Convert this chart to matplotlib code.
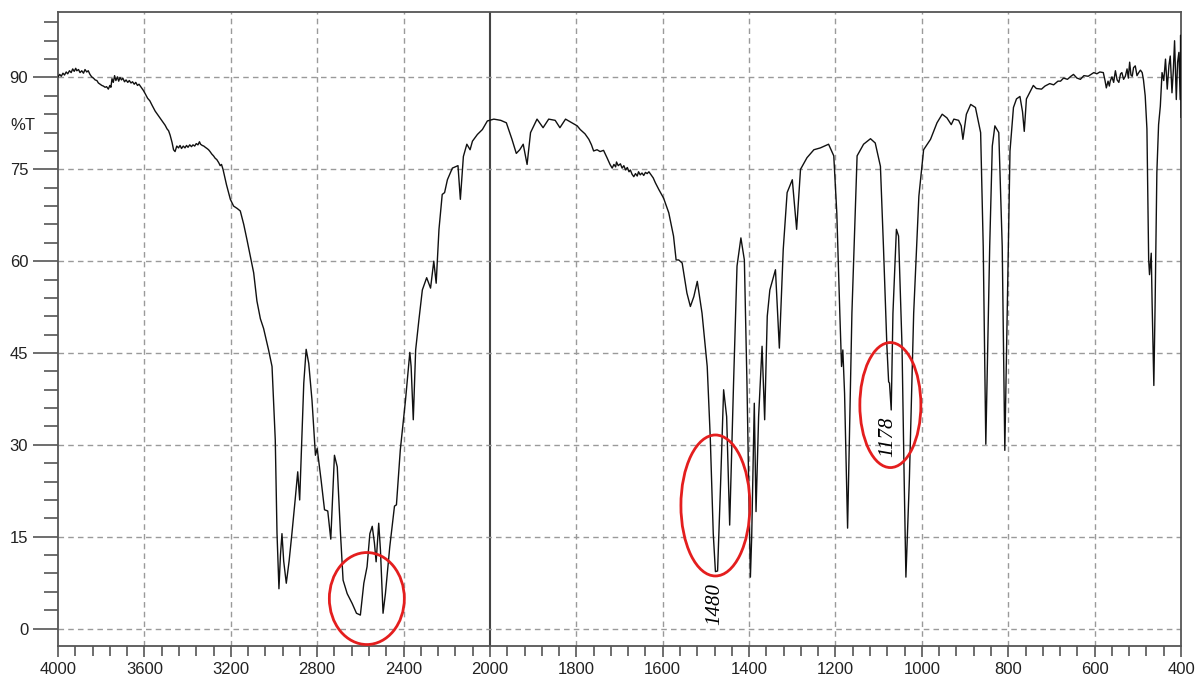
import numpy as np
import matplotlib
matplotlib.use("Agg")
import matplotlib.pyplot as plt
from matplotlib.patches import Ellipse
from matplotlib.ticker import FixedLocator

# IR spectrum, split by region (wavenumber cm-1 / %T)
wn_a = [
    4000, 3992, 3985, 3977, 3970, 3962, 3955, 3947, 3939, 3932,
    3925, 3918, 3913, 3905, 3898, 3890, 3882, 3875, 3867, 3860,
    3852, 3844, 3836, 3828, 3820, 3813, 3805, 3797, 3790, 3782,
    3775, 3767, 3760, 3755, 3750, 3744, 3738, 3732, 3725, 3719,
    3713, 3706, 3700, 3692, 3685, 3677, 3670, 3662, 3655, 3647,
    3640, 3632, 3625, 3615, 3605, 3597, 3585, 3575, 3565, 3550,
    3540, 3530, 3520, 3504, 3495, 3488, 3481, 3472, 3465, 3458,
    3450, 3442, 3435, 3428, 3420, 3412, 3405, 3398, 3390, 3382,
    3375, 3367, 3360, 3352, 3345, 3340, 3332, 3325, 3318, 3310,
    3303, 3296, 3288, 3280, 3272, 3265, 3256, 3249, 3243, 3236,
    3220, 3202, 3187, 3170, 3156, 3140, 3125, 3094, 3079, 3063,
    3048, 3025, 3009,
]
t_a = [
    90.1, 90.5, 90.2, 90.7, 90.4, 90.9, 90.6, 91.1, 90.8, 91.4,
    91.0, 91.5, 91.1, 91.3, 90.8, 91.1, 90.7, 91.3, 90.9, 91.1,
    90.5, 90.1, 89.9, 89.6, 89.5, 89.1, 88.9, 88.7, 88.6, 88.4,
    88.5, 88.1, 88.7, 88.4, 89.8, 89.2, 90.3, 89.5, 90.1, 89.4,
    90.0, 89.6, 89.9, 89.3, 89.6, 89.2, 89.5, 89.1, 89.3, 88.9,
    89.2, 88.7, 88.9, 88.4, 87.9, 87.4, 86.6, 86.2, 85.5, 84.5,
    84.0, 83.5, 83.0, 82.2, 81.6, 81.3, 80.6, 79.4, 78.2, 77.9,
    78.8, 78.5, 78.9, 78.4, 78.8, 78.5, 78.9, 78.6, 79.0, 78.7,
    79.0, 78.8, 79.2, 79.0, 79.5, 79.1, 78.9, 78.8, 78.6, 78.4,
    78.2, 77.9, 77.5, 77.2, 76.8, 76.6, 76.1, 75.6, 75.8, 75.0,
    72.5, 70.1, 69.0, 68.6, 68.2, 66.0, 63.5, 58.1, 53.5, 50.6,
    49.0, 45.5, 42.8,
]

wn_b = [
    2994, 2986, 2977, 2970, 2963, 2955, 2943, 2930, 2917, 2902,
    2890, 2881, 2870, 2862, 2851, 2839, 2824, 2808, 2800, 2782,
    2766, 2751, 2737, 2728, 2720, 2707, 2692, 2680, 2661, 2638,
    2618, 2600, 2584, 2569, 2556, 2545, 2535, 2527, 2515, 2507,
    2495, 2484, 2464, 2442, 2433, 2415, 2391, 2371, 2365, 2355,
    2344, 2329, 2313, 2293, 2275, 2260, 2249, 2236, 2221, 2210,
    2197, 2174, 2148, 2137, 2123, 2107, 2092, 2081, 2058, 2035,
    2012,
]
t_b = [
    30.8, 15.6, 6.5, 12.0, 15.5, 11.0, 7.4, 11.0, 15.5, 21.0,
    25.6, 21.0, 31.9, 40.1, 45.6, 43.3, 37.3, 28.3, 29.4, 24.3,
    19.4, 19.2, 14.6, 22.0, 28.3, 26.4, 15.5, 7.9, 5.7, 4.1,
    2.5, 2.2, 7.4, 10.1, 15.5, 16.7, 14.0, 10.9, 17.2, 12.8,
    2.5, 5.7, 13.3, 20.0, 20.2, 29.2, 37.3, 45.1, 42.8, 34.1,
    45.5, 50.4, 55.3, 57.3, 55.6, 60.0, 56.4, 65.2, 70.9, 71.2,
    73.3, 75.2, 75.6, 70.1, 77.1, 79.1, 78.2, 79.6, 80.7, 81.5,
    82.9,
]

wn_c = [
    1991, 1975, 1962, 1949, 1939, 1931, 1923, 1914, 1906, 1891,
    1877, 1864, 1849, 1838, 1825, 1798, 1791, 1780, 1771, 1765,
    1760, 1752, 1745, 1737, 1729, 1722, 1717, 1713, 1709, 1707,
    1703, 1698, 1694, 1690, 1686, 1682, 1678, 1675, 1671, 1667,
    1663, 1659, 1656, 1652, 1648, 1644, 1640, 1636, 1632, 1628,
    1622, 1617, 1609, 1598, 1586, 1575, 1569, 1563, 1555, 1544,
    1536, 1528, 1520, 1509, 1497, 1490, 1483, 1478, 1473, 1466,
    1459, 1452, 1445, 1436, 1428, 1419, 1411, 1405, 1401, 1397,
    1394, 1388, 1384, 1378, 1370, 1364, 1358, 1352, 1339, 1330,
    1321, 1312, 1300, 1290, 1281, 1266, 1250, 1235, 1216, 1204,
    1197, 1190, 1186, 1183, 1179, 1172, 1162, 1150, 1135, 1119,
    1108, 1096, 1089, 1081, 1077, 1075, 1071, 1067, 1059, 1054,
    1046, 1041, 1037, 1029, 1019, 1007,
]
t_c = [
    83.2, 83.0, 82.6, 79.9, 77.6, 78.2, 79.1, 75.8, 81.0, 83.2,
    81.8, 83.2, 83.0, 81.8, 83.2, 82.1, 81.5, 80.8, 79.9, 79.0,
    78.0, 78.2, 77.9, 78.1, 76.9, 75.8, 75.2, 75.8, 75.4, 76.2,
    75.6, 75.9, 75.2, 75.6, 74.9, 75.3, 74.6, 74.9, 74.2, 73.8,
    74.3, 73.9, 74.6, 74.1, 74.4, 74.0, 74.5, 74.3, 74.6, 74.2,
    73.6, 72.8, 71.7, 70.3, 67.9, 64.1, 60.2, 60.2, 59.7, 54.8,
    52.6, 54.2, 56.7, 51.5, 42.8, 31.3, 15.5, 9.3, 9.4, 23.7,
    39.0, 34.6, 16.9, 40.1, 59.2, 63.8, 60.2, 40.1, 23.7, 8.4,
    15.0, 36.8, 19.1, 34.6, 46.1, 34.1, 51.0, 55.3, 58.6, 45.8,
    61.9, 71.2, 73.3, 65.2, 75.0, 76.9, 78.2, 78.5, 79.1, 77.2,
    67.9, 51.5, 42.8, 45.5, 38.4, 16.4, 51.5, 77.2, 79.1, 80.0,
    79.3, 75.5, 62.4, 46.1, 40.3, 40.1, 35.7, 51.5, 65.2, 64.1,
    46.1, 24.3, 8.4, 24.3, 51.5, 70.6,
]

wn_d = [
    996, 980, 965, 953, 942, 932, 926, 915, 909, 905,
    897, 887, 876, 864, 858, 852, 843, 837, 831, 822,
    814, 808, 796, 788, 781, 773, 767, 763, 758, 742,
    735, 723, 715, 704, 695, 685, 679, 672, 663, 655,
    649, 641, 633, 625, 615, 602, 595, 588, 580, 576,
    573, 569, 566, 564, 560, 556, 552, 548, 544, 540,
    537, 533, 529, 525, 522, 519, 516, 513, 510, 506,
    502, 498, 494, 490, 487, 483, 479, 475, 473, 469,
    467, 465, 463, 460, 456, 452, 448, 444, 440, 436,
    432, 428, 425, 421, 418, 415, 411, 408, 405, 402,
    401, 400,
]
t_d = [
    78.2, 79.9, 82.6, 84.0, 83.4, 82.3, 83.2, 83.0, 82.1, 79.9,
    84.0, 85.6, 85.1, 81.0, 62.4, 30.1, 62.4, 78.8, 82.1, 81.0,
    62.4, 29.1, 78.0, 85.1, 86.5, 86.9, 84.4, 81.2, 86.5, 88.7,
    88.2, 88.1, 88.6, 89.0, 88.8, 89.4, 89.4, 89.9, 89.7, 90.2,
    90.5, 89.9, 89.7, 90.3, 90.2, 90.8, 90.6, 90.9, 90.8, 89.5,
    88.3, 89.4, 88.6, 89.4, 90.1, 89.2, 91.1, 89.6, 89.2, 90.6,
    90.8, 89.7, 90.2, 91.4, 89.9, 92.5, 90.4, 90.2, 91.6, 91.9,
    90.3, 90.8, 91.2, 90.8, 89.6, 87.0, 81.6, 60.3, 57.8, 61.3,
    53.2, 46.8, 39.7, 53.2, 74.5, 82.3, 85.3, 90.8, 89.5, 93.0,
    88.1, 92.0, 93.5, 87.5, 91.0, 96.0, 86.4, 92.5, 94.1, 86.4,
    96.9, 83.5,
]

x_major = [4000, 3600, 3200, 2800, 2400, 2000, 1800, 1600, 1400, 1200, 1000, 800, 600, 400]
y_major = [0, 15, 30, 45, 60, 75, 90]

# red marks: centre (wavenumber, %T) and size in pixels
circle_centres = [(2570, 4.9), (1478, 20.1), (1073, 36.5)]
circle_sizes = [(75, 92), (69, 141), (61, 125)]
labels = [("1480", 1480, 4.0), ("1178", 1078, 31.4)]

wavenumber = np.array(wn_a + wn_b + wn_c + wn_d, dtype=float)
transmittance = np.array(t_a + t_b + t_c + t_d)


# spectrometer chart: 4000-2000 is drawn at half the scale of 2000-400
def fwd(x):
    x = np.asarray(x, dtype=float)
    return np.where(x <= 2000, x, 2000 + (x - 2000) / 2)


def inv(u):
    u = np.asarray(u, dtype=float)
    return np.where(u <= 2000, u, 2000 + 2 * (u - 2000))


plt.rcParams['font.family'] = ['Liberation Sans', 'DejaVu Sans']

fig = plt.figure(figsize=(11.96, 6.8), dpi=100)
ax = fig.add_axes([0.0485, 0.05, 0.939, 0.9324])
ax.set_xscale('function', functions=(fwd, inv))
ax.set_xlim(4000, 400)
ax.set_ylim(-2.85, 100.7)

for v in x_major[1:-1]:
    if v == 2000:
        ax.axvline(v, color='#444444', lw=1.5, zorder=1)
    else:
        ax.axvline(v, color='#9a9a9a', lw=1.0, ls=(0, (4, 3)), zorder=1)
for v in y_major:
    ax.axhline(v, color='#9a9a9a', lw=1.0, ls=(0, (4, 3)), zorder=1)

ax.plot(wavenumber, transmittance, color='#111111', lw=1.0, zorder=3)

for (wx, ty), (w, h) in zip(circle_centres, circle_sizes):
    px, py = ax.transData.transform((wx, ty))
    e = Ellipse((px, py), w, h, transform=None, fill=False,
                edgecolor='#e41e1e', lw=2.0, zorder=4)
    fig.add_artist(e)

for txt, wx, ty in labels:
    ax.text(wx, ty, txt, rotation=90, ha='center', va='center', fontsize=15,
            family=['Liberation Serif', 'DejaVu Serif'], style='italic', zorder=5)

ax.xaxis.set_major_locator(FixedLocator(x_major))
ax.xaxis.set_minor_locator(FixedLocator(list(range(4000, 2000, -80)) + list(range(2000, 399, -40))))
ax.set_xticklabels([str(v) for v in x_major])
ax.yaxis.set_major_locator(FixedLocator(y_major))
ax.yaxis.set_minor_locator(FixedLocator(list(range(3, 100, 3))))
ax.set_yticklabels([str(v) for v in y_major])

ax.tick_params(axis='both', which='both', direction='out', color='#555555',
               labelcolor='#222222', labelsize=12)
ax.tick_params(axis='y', which='major', length=18, width=1.2)
ax.tick_params(axis='y', which='minor', length=10, width=1.2)
ax.tick_params(axis='x', which='major', length=8, width=1.2)
ax.tick_params(axis='x', which='minor', length=7, width=1.2)
for s in ax.spines.values():
    s.set_color('#555555')
    s.set_linewidth(1.3)

fig.text(23 / 1196, 1 - 126 / 680, '%T', ha='center', va='center', fontsize=12, color='#222222')

fig.savefig('out.png', dpi=100)
